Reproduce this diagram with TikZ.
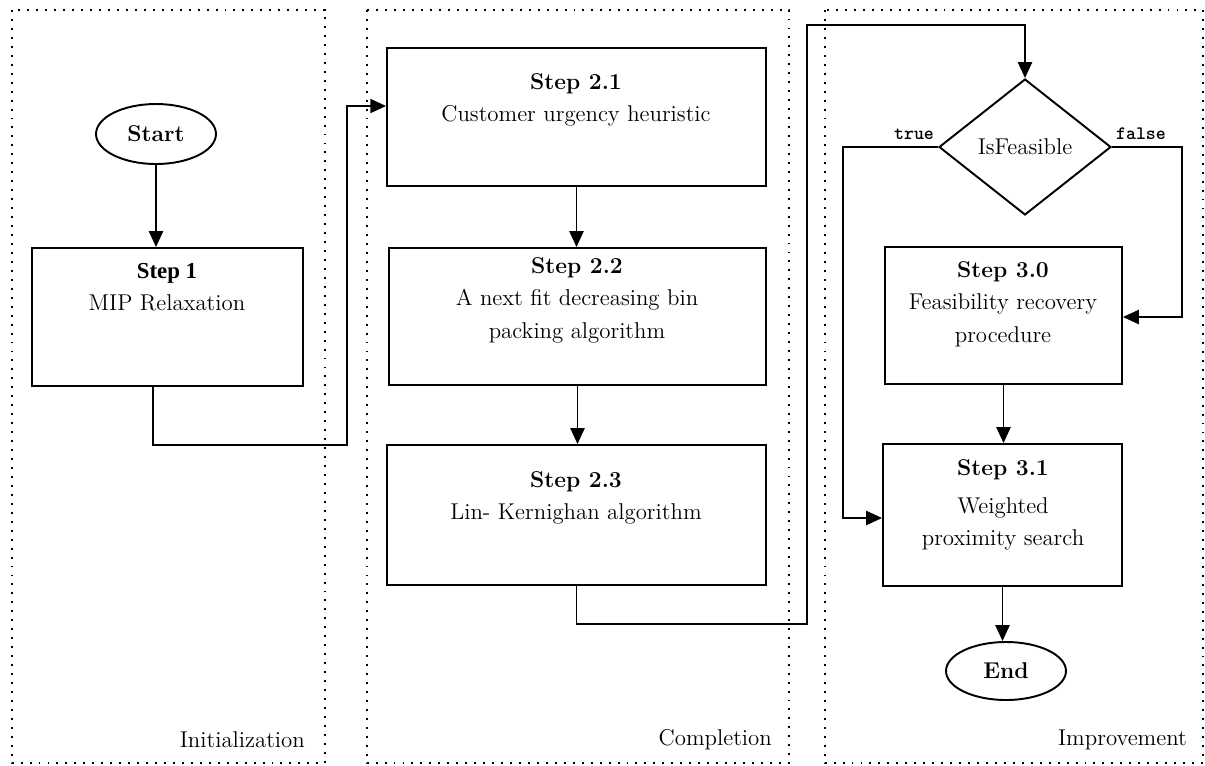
\documentclass[tikz,border=0pt]{standalone}
\usepackage{fontspec}
\newfontfamily\timesb{Liberation Serif}
\newfontfamily\monob{lmmonolt10-bold.otf}
\usetikzlibrary{arrows.meta,shapes.geometric}
\begin{document}
\begin{tikzpicture}[x=0.02cm,y=-0.02cm,
  frame/.style={draw,line width=1.2pt,dash pattern=on 1.1pt off 4pt},
  box/.style={draw,line width=1.1pt,rectangle,inner sep=0pt},
  term/.style={draw,line width=1.1pt,ellipse,inner sep=0pt,font=\fontsize{13}{15}\selectfont\bfseries},
  txt/.style={align=center,font=\fontsize{13}{18.5}\selectfont},
  lbl/.style={font=\fontsize{13}{15}\selectfont},
  tf/.style={font=\fontsize{10.8}{12}\selectfont\monob},
  arr/.style={line width=1.1pt,-{Triangle[length=9pt,width=8pt]}}]
\useasboundingbox (0,0) rectangle (1205,765);
% frames
\draw[frame] (12,10) rectangle (325,763);
\draw[frame] (367,10) rectangle (789,763);
\draw[frame] (825,10) rectangle (1203,763);
\node[lbl,anchor=east] (l1) at (311,740) {Initialization};
\node[lbl,anchor=east] (l2) at (778,740) {Completion};
\node[lbl,anchor=east] (l3) at (1193,740) {Improvement};
% nodes
\node[term,minimum width=2.4cm,minimum height=1.2cm] (start) at (156,134) {Start};
\node[box,minimum width=5.42cm,minimum height=2.76cm] (s1) at (167.5,317) {};
\node[box,minimum width=7.58cm,minimum height=2.76cm] (s21) at (576.5,117) {};
\node[box,minimum width=7.54cm,minimum height=2.74cm] (s22) at (577.5,316.5) {};
\node[box,minimum width=7.58cm,minimum height=2.8cm] (s23) at (576.5,515) {};
\node[draw,line width=1.1pt,diamond,inner sep=0pt,minimum width=3.44cm,minimum height=2.72cm,font=\fontsize{13}{15}\selectfont] (dia) at (1025,147) {IsFeasible};
\node[box,minimum width=4.74cm,minimum height=2.74cm] (s30) at (1003.5,315.5) {};
\node[box,minimum width=4.78cm,minimum height=2.84cm] (s31) at (1002.5,515) {};
\node[term,minimum width=2.4cm,minimum height=1.16cm] (end) at (1006,671) {End};
% texts
\node[txt] (t1) at (167,287) {{\timesb\bfseries Step 1}\\MIP Relaxation};
\node[txt] (t21) at (576,100) {\textbf{Step 2.1}\\Customer urgency heuristic};
\node[txt] (t22) at (577,300) {\textbf{Step 2.2}\\A next fit decreasing bin\\packing algorithm};
\node[txt] (t23) at (576,498) {\textbf{Step 2.3}\\Lin- Kernighan algorithm};
\node[txt] (t30) at (1003,304) {\textbf{Step 3.0}\\Feasibility recovery\\procedure};
\node[txt] (t31) at (1003,505) {\textbf{Step 3.1}\\[3pt]Weighted\\proximity search};
\node[tf] (true) at (914,134) {true};
\node[tf] (false) at (1141,134) {false};
% corner coordinates
\coordinate (c0) at (153,386);
\coordinate (c1) at (347,445);
\coordinate (c2) at (347,106);
\coordinate (c3) at (807,624);
\coordinate (c4) at (807,25);
\coordinate (c5) at (843,518);
\coordinate (c6) at (1182,317);
% connectors
\draw[arr] (start.south) -- (start.south |- s1.north);
\draw[arr] (s1.south -| c0) |- (c1) -- (c2) -- (s21.west |- c2);
\draw[arr] (s21.south) -- (s21.south |- s22.north);
\draw[arr] (s22.south) -- (s22.south |- s23.north);
\draw[arr] (s23.south) |- (c3) -- (c4) -| (dia.north);
\draw[arr] (dia.west) -| (c5) -- (s31.west |- c5);
\draw[arr] (dia.east) -| (c6) -- (s30.east |- c6);
\draw[arr] (s30.south) -- (s30.south |- s31.north);
\draw[arr] (s31.south) -- (s31.south |- end.north);
\end{tikzpicture}
\end{document}
